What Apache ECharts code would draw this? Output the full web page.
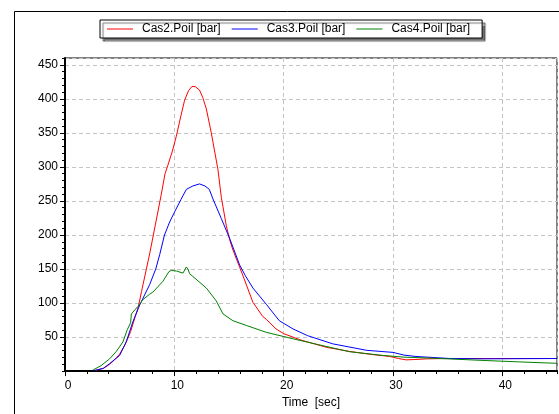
<!DOCTYPE html>
<html>
<head>
<meta charset="utf-8">
<script src="https://cdn.jsdelivr.net/npm/echarts@6/dist/echarts.min.js"></script>
<style>
html,body{margin:0;padding:0;background:#fff;}
#chart{width:559px;height:414px;}
</style>
</head>
<body>
<div id="chart"></div>
<script>
// ---- Data ----
const seriesNames = ['Cas2.Poil [bar]', 'Cas3.Poil [bar]', 'Cas4.Poil [bar]'];
const xTickLabels = ['0', '10', '20', '30', '40'];
const yTickLabels = ['50', '100', '150', '200', '250', '300', '350', '400', '450'];

const timeCas2 = [2.8, 3.5, 4.0, 4.5, 5.0, 5.5, 6.0, 6.4, 6.7, 7.0, 7.74, 8.35, 8.81, 9.15, 9.4, 9.8, 10.18, 10.6, 10.94, 11.3, 11.6, 11.9, 12.3, 12.6, 12.93, 13.38, 13.99, 14.3, 14.76, 15.06, 15.36, 16.28, 17.19, 18.1, 18.42, 19.3, 20.0, 21.5, 23.9, 26.0, 28.0, 29.7, 30.5, 31.2, 32.0, 33.1, 35.0, 45.0];
const valCas2  = [1, 4, 9, 16, 25, 39, 58, 79, 94, 117, 172, 222, 260, 290, 302, 322, 345, 375, 398, 412, 418, 418, 413, 402, 385, 350, 296, 255, 213, 193, 178, 140, 101, 80, 76, 62, 55, 46, 35, 29, 24.5, 21.5, 18.5, 16.5, 17, 18, 18.5, 18.5];

const timeCas3 = [2.7, 3.5, 4.08, 5.0, 5.6, 6.2, 6.83, 7.74, 8.3, 8.66, 9.1, 9.57, 10.03, 10.6, 11.1, 11.7, 12.3, 12.8, 13.2, 13.53, 14.3, 15.06, 15.97, 16.5, 17.19, 18.42, 19.6, 20.85, 22.2, 24.5, 27.6, 30.0, 31.0, 32.1, 35.2, 38.3, 45.0];
const valCas3  = [1, 4, 11, 23, 43, 72, 97, 127, 150, 171, 200, 219, 234, 252, 267, 272, 275, 272, 267, 253, 224, 195, 156, 140, 122, 98, 74, 62, 52, 40, 30.5, 27.5, 23.5, 21.5, 18.5, 18, 18.5];

const timeCas4 = [2.55, 3.3, 4.08, 4.7, 5.3, 5.7, 6.0, 6.07, 6.67, 7.13, 7.74, 8.04, 8.96, 9.5, 9.72, 10.2, 10.79, 10.94, 11.1, 11.25, 11.4, 11.7, 12.93, 13.84, 14.45, 15.36, 16.6, 18.4, 20.85, 23.0, 26.0, 29.1, 31.0, 33.6, 35.0, 38.5, 41.6, 44.0, 45.0];
const valCas4  = [1.5, 8, 18, 29, 43, 61, 71, 84, 95, 105, 113, 116, 132, 146, 148, 147, 144, 144, 153, 150, 143, 139, 122, 103, 84, 74, 67, 57, 47.5, 39.5, 28.5, 23, 20.5, 19, 18, 15.5, 13.5, 12, 11.5];

const xAxisMin = 0, xAxisMax = 45, yAxisMin = 0, yAxisMax = 460;

function pairs(ts, vs) { return ts.map((t, i) => [t, vs[i]]); }

const FONT = 'Liberation Sans, Arial, sans-serif';
const chart = echarts.init(document.getElementById('chart'), null, {renderer: 'canvas'});

const grid = {left: 65, right: 2, top: 58, bottom: 42, show: true, borderColor: '#000', borderWidth: 1, backgroundColor: 'transparent'};
const dashed = {show: true, lineStyle: {color: '#c4c4c4', type: [4, 3], width: 1}};

chart.setOption({
  backgroundColor: '#fff',
  animation: false,
  graphic: [{
    type: 'rect', left: 12, top: 9, silent: true,
    shape: {width: 620, height: 480},
    style: {fill: 'none', stroke: '#000', lineWidth: 1}
  }],
  legend: {
    left: 100, top: 20,
    data: seriesNames,
    icon: 'rect', itemWidth: 26, itemHeight: 1, itemGap: 11,
    padding: [3, 12, 3, 7],
    backgroundColor: '#fff', borderColor: '#000', borderWidth: 1,
    shadowColor: 'rgba(0,0,0,0.55)', shadowBlur: 1, shadowOffsetX: 3, shadowOffsetY: 3,
    textStyle: {color: '#000', fontFamily: FONT, fontSize: 12, padding: [0, 0, 0, 4]}
  },
  grid: grid,
  xAxis: [{
    type: 'value', min: xAxisMin, max: xAxisMax, interval: 10, position: 'bottom',
    name: 'Time  [sec]', nameLocation: 'middle', nameGap: 24,
    nameTextStyle: {color: '#000', fontFamily: FONT, fontSize: 12},
    axisLine: {show: true, onZero: false, lineStyle: {color: '#000', width: 2}},
    axisTick: {show: true, length: 5, lineStyle: {color: '#000'}},
    axisLabel: {color: '#000', fontFamily: FONT, fontSize: 12, margin: 9, showMaxLabel: false,
      padding: [0, 0, 0, 6],
      formatter: v => xTickLabels.includes(String(v)) ? String(v) : ''},
    splitLine: dashed
  }, {
    type: 'value', min: xAxisMin, max: xAxisMax, interval: 2, position: 'bottom',
    axisLine: {show: false, onZero: false},
    axisTick: {show: true, length: 3, lineStyle: {color: '#000'}},
    axisLabel: {show: false}, splitLine: {show: false}
  }],
  yAxis: [{
    type: 'value', min: yAxisMin, max: yAxisMax, interval: 50, position: 'left',
    axisLine: {show: true, onZero: false, lineStyle: {color: '#000', width: 2}},
    axisTick: {show: true, length: 5, lineStyle: {color: '#000'}},
    axisLabel: {color: '#000', fontFamily: FONT, fontSize: 12, margin: 7, showMinLabel: false, showMaxLabel: false,
      formatter: v => yTickLabels.includes(String(v)) ? String(v) : ''},
    splitLine: dashed
  }, {
    type: 'value', min: yAxisMin, max: yAxisMax, interval: 10, position: 'left',
    axisLine: {show: false, onZero: false},
    axisTick: {show: true, length: 3, lineStyle: {color: '#000'}},
    axisLabel: {show: false}, splitLine: {show: false}
  }],
  series: [
    {name: seriesNames[0], type: 'line', data: pairs(timeCas2, valCas2), symbol: 'none', color: '#ff0000', lineStyle: {width: 1}, xAxisIndex: 0, yAxisIndex: 0},
    {name: seriesNames[1], type: 'line', data: pairs(timeCas3, valCas3), symbol: 'none', color: '#0000ff', lineStyle: {width: 1}, xAxisIndex: 0, yAxisIndex: 0},
    {name: seriesNames[2], type: 'line', data: pairs(timeCas4, valCas4), symbol: 'none', color: '#008000', lineStyle: {width: 1}, xAxisIndex: 0, yAxisIndex: 0}
  ]
});
</script>
</body>
</html>
